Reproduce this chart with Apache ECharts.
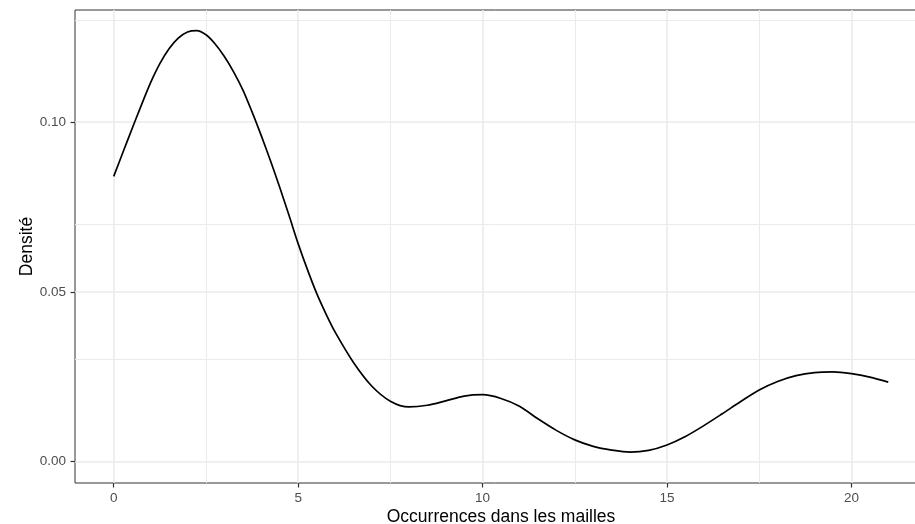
<!DOCTYPE html>
<html>
<head>
<meta charset="utf-8">
<script src="https://cdn.jsdelivr.net/npm/echarts@6/dist/echarts.min.js"></script>
<style>
html,body{margin:0;padding:0;background:#fff;}
#chart{width:915px;height:524px;}
</style>
</head>
<body>
<div id="chart"></div>
<script>
// Data (kernel density estimate)
const xValues = [0,0.25,0.5,0.75,1,1.25,1.5,1.75,2,2.25,2.5,2.75,3,3.25,3.5,3.75,4,4.25,4.5,4.75,5,5.25,5.5,5.75,6,6.5,7,7.5,8,8.5,9,9.5,10,10.5,11,11.5,12,12.5,13,13.5,14,14.5,15,15.5,16,16.5,17,17.5,18,18.5,19,19.5,20,20.5,21];
const densityValues = [0.0840,0.0911,0.0981,0.1050,0.1116,0.1172,0.1216,0.1247,0.1265,0.1269,0.1257,0.1230,0.1193,0.1148,0.1095,0.1030,0.0960,0.0886,0.0808,0.0726,0.0642,0.0566,0.0496,0.0436,0.0382,0.0292,0.0222,0.0178,0.0161,0.0166,0.0179,0.0193,0.0197,0.0186,0.0163,0.0126,0.0092,0.0064,0.0045,0.0034,0.0028,0.0033,0.0049,0.0074,0.0106,0.0141,0.0177,0.0211,0.0236,0.0253,0.0262,0.0264,0.0259,0.0249,0.0234];
const xMajorTicks = [0,5,10,15,20];
const xMinorTicks = [2.5,7.5,12.5,17.5];
const yMajorTicks = [0,0.05,0.10];
const yMinorTicks = [0.025,0.075,0.125];
const xTitle = "Occurrences dans les mailles";
const yTitle = "Densité";

const chart = echarts.init(document.getElementById('chart'), null, {renderer:'canvas'});
const FONT = '"Liberation Sans", Arial, Helvetica, sans-serif';

const gridLines = [];
xMinorTicks.forEach(v => gridLines.push({xAxis: v, lineStyle:{width:1}}));
yMinorTicks.forEach(v => gridLines.push({yAxis: v, lineStyle:{width:1}}));
xMajorTicks.forEach(v => gridLines.push({xAxis: v, lineStyle:{width:1.6}}));
yMajorTicks.forEach(v => gridLines.push({yAxis: v, lineStyle:{width:1.6}}));

chart.setOption({
  animation: false,
  backgroundColor: '#ffffff',
  grid: {
    left: 75, top: 10, width: 852, height: 473,
    containLabel: false, outerBoundsMode: 'none',
    show: true, borderColor: '#333333', borderWidth: 1, backgroundColor: 'transparent'
  },
  xAxis: {
    type: 'value', min: -1.05, max: 22.05, position: 'bottom',
    name: xTitle, nameLocation: 'middle', nameGap: 25, nameMoveOverlap: false,
    nameTextStyle: {fontFamily: FONT, fontSize: 17.5, color: '#000', verticalAlign: 'top'},
    axisLine: {show: false, onZero: false},
    axisTick: {show: true, customValues: xMajorTicks, length: 4.5, lineStyle: {color: '#333333', width: 1.2}},
    axisLabel: {customValues: xMajorTicks, fontFamily: FONT, fontSize: 13.5, color: '#4d4d4d', margin: 8},
    splitLine: {show: false}
  },
  yAxis: {
    type: 'value', min: -0.0063, max: 0.1330, position: 'left',
    name: yTitle, nameLocation: 'middle', nameGap: 39, nameRotate: 90, nameMoveOverlap: false,
    nameTextStyle: {fontFamily: FONT, fontSize: 17.5, color: '#000', verticalAlign: 'bottom'},
    axisLine: {show: false, onZero: false},
    axisTick: {show: true, customValues: yMajorTicks, length: 4.5, lineStyle: {color: '#333333', width: 1.2}},
    axisLabel: {customValues: yMajorTicks, fontFamily: FONT, fontSize: 13.5, color: '#4d4d4d', margin: 9,
      formatter: v => v.toFixed(2)},
    splitLine: {show: false}
  },
  series: [
    {
      type: 'line', data: [], silent: true, z: 1,
      markLine: {
        z: 1, silent: true, symbol: ['none','none'], animation: false,
        label: {show: false},
        lineStyle: {color: '#ebebeb', type: 'solid'},
        emphasis: {disabled: true},
        data: gridLines
      }
    },
    {
      type: 'line', z: 6,
      data: xValues.map((x, i) => [x, densityValues[i]]),
      smooth: 0.3, symbol: 'none',
      lineStyle: {color: '#000000', width: 1.7}
    }
  ]
});
</script>
</body>
</html>
